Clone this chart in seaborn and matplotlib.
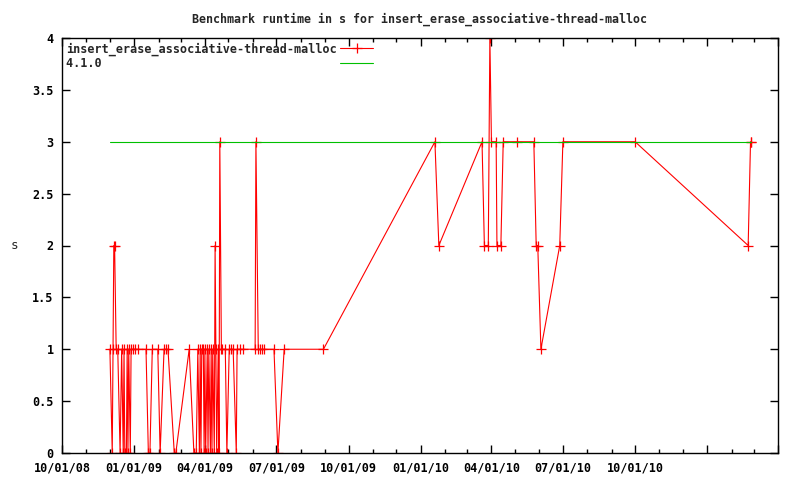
import pandas as pd
import matplotlib
matplotlib.use("Agg")
import matplotlib.pyplot as plt
import matplotlib.dates as mdates
import seaborn as sns

# ------------ DATA ------------
run_dates = [
    "2008-12-01", "2008-12-04", "2008-12-05", "2008-12-06", "2008-12-07", "2008-12-09",
    "2008-12-11", "2008-12-14", "2008-12-16", "2008-12-18", "2008-12-19", "2008-12-20",
    "2008-12-22", "2008-12-23", "2008-12-24", "2008-12-25", "2008-12-27", "2008-12-28",
    "2008-12-30", "2009-01-02", "2009-01-06", "2009-01-16", "2009-01-19", "2009-01-21",
    "2009-01-24", "2009-01-31", "2009-02-03", "2009-02-08", "2009-02-10", "2009-02-13",
    "2009-02-21", "2009-02-23", "2009-03-12", "2009-03-18", "2009-03-21", "2009-03-23",
    "2009-03-25", "2009-03-26", "2009-03-27", "2009-03-28", "2009-03-30", "2009-03-31",
    "2009-04-01", "2009-04-02", "2009-04-04", "2009-04-05", "2009-04-06", "2009-04-08",
    "2009-04-09", "2009-04-10", "2009-04-11", "2009-04-13", "2009-04-14", "2009-04-15",
    "2009-04-16", "2009-04-18", "2009-04-19", "2009-04-20", "2009-04-22", "2009-04-23",
    "2009-04-27", "2009-04-29", "2009-05-02", "2009-05-04", "2009-05-07", "2009-05-11",
    "2009-05-12", "2009-05-16", "2009-05-20", "2009-06-04", "2009-06-05", "2009-06-08",
    "2009-06-10", "2009-06-13", "2009-06-15", "2009-06-28", "2009-07-03", "2009-07-11",
    "2009-08-30", "2010-01-19", "2010-01-24", "2010-03-20", "2010-03-23", "2010-03-28",
    "2010-03-30", "2010-04-01", "2010-04-07", "2010-04-08", "2010-04-13", "2010-04-16",
    "2010-05-04", "2010-05-25", "2010-05-28", "2010-05-30", "2010-06-03", "2010-06-27",
    "2010-07-01", "2010-10-01", "2011-02-22", "2011-02-25", "2011-02-26",
]
runtime_s = [
    1, 0, 1, 2, 2, 1,
    1, 0, 1, 0, 1, 0,
    0, 1, 0, 1, 0, 1,
    1, 1, 1, 1, 0, 0,
    1, 1, 0, 1, 1, 1,
    0, 0, 1, 0, 0, 1,
    0, 1, 0, 1, 1, 0,
    1, 0, 1, 0, 1, 0,
    1, 0, 1, 0, 2, 1,
    0, 1, 0, 3, 1, 1,
    1, 0, 1, 1, 1, 0,
    1, 1, 1, 1, 3, 1,
    1, 1, 1, 1, 0, 1,
    1, 3, 2, 3, 2, 2,
    4, 3, 3, 2, 2, 3,
    3, 3, 2, 2, 1, 2,
    3, 3, 2, 3, 3,
]
baseline_dates = ["2008-12-01", "2011-02-26"]
baseline_s = [3, 3]

series_name = "insert_erase_associative-thread-malloc"
baseline_name = "4.1.0"
title = "Benchmark runtime in s for insert_erase_associative-thread-malloc"

runs = pd.DataFrame({"date": pd.to_datetime(run_dates), "s": runtime_s})
base = pd.DataFrame({"date": pd.to_datetime(baseline_dates), "s": baseline_s})

RED = "#ff0000"
GREEN = "#00c000"

# ------------ PLOT ------------
sns.set_style("ticks")
plt.rcParams["font.family"] = ["DejaVu Sans Mono"]
plt.rcParams["font.weight"] = "bold"
plt.rcParams["font.size"] = 8.5

fig = plt.figure(figsize=(8, 4.8), dpi=100)
ax = fig.add_axes([62 / 800, 1 - 453 / 480, (778 - 62) / 800, (453 - 38) / 480])

# monospace font: pad the short label so both legend texts line up on the left
width = max(len(series_name), len(baseline_name))
sns.lineplot(data=runs, x="date", y="s", ax=ax, sort=False, estimator=None,
             color=RED, linewidth=0.8, marker="+", markersize=6.5,
             markeredgewidth=0.9, markeredgecolor=RED, markerfacecolor=RED,
             label=series_name.ljust(width))
sns.lineplot(data=base, x="date", y="s", ax=ax, sort=False, estimator=None,
             color=GREEN, linewidth=0.8, label=baseline_name.ljust(width))

ax.set_xlim(pd.Timestamp("2008-10-01"), pd.Timestamp("2011-04-01"))
ax.set_ylim(0, 4)
ax.set_yticks([0, 0.5, 1, 1.5, 2, 2.5, 3, 3.5, 4])
ax.set_yticklabels(["0", "0.5", "1", "1.5", "2", "2.5", "3", "3.5", "4"])

ax.xaxis.set_major_locator(mdates.MonthLocator(bymonth=[1, 4, 7, 10]))
ax.xaxis.set_minor_locator(mdates.MonthLocator())
fmt = mdates.DateFormatter("%m/%d/%y")
last_label = mdates.date2num(pd.Timestamp("2010-10-01"))
ax.xaxis.set_major_formatter(plt.FuncFormatter(lambda v, p: fmt(v, p) if v <= last_label else ""))

ax.tick_params(which="both", direction="in", top=True, right=True, width=1, colors="black")
ax.tick_params(which="major", length=6, pad=6)
ax.tick_params(which="minor", length=3)
for s in ax.spines.values():
    s.set_linewidth(1)
    s.set_color("black")

ax.set_xlabel("")
ax.set_ylabel("s", rotation=0, va="center", ha="center", fontsize=9)
ax.yaxis.set_label_coords(-48 / 716, 0.5)
ax.set_title(title, fontsize=8.4, fontweight="bold", pad=11)

ax.legend(loc="upper left", frameon=False, markerfirst=False, handlelength=2.8,
          borderaxespad=0.25, borderpad=0.1, labelspacing=0.15, handletextpad=0.3,
          prop={"family": "DejaVu Sans Mono", "weight": "bold", "size": 8.5})

fig.savefig("out.png", dpi=100)
